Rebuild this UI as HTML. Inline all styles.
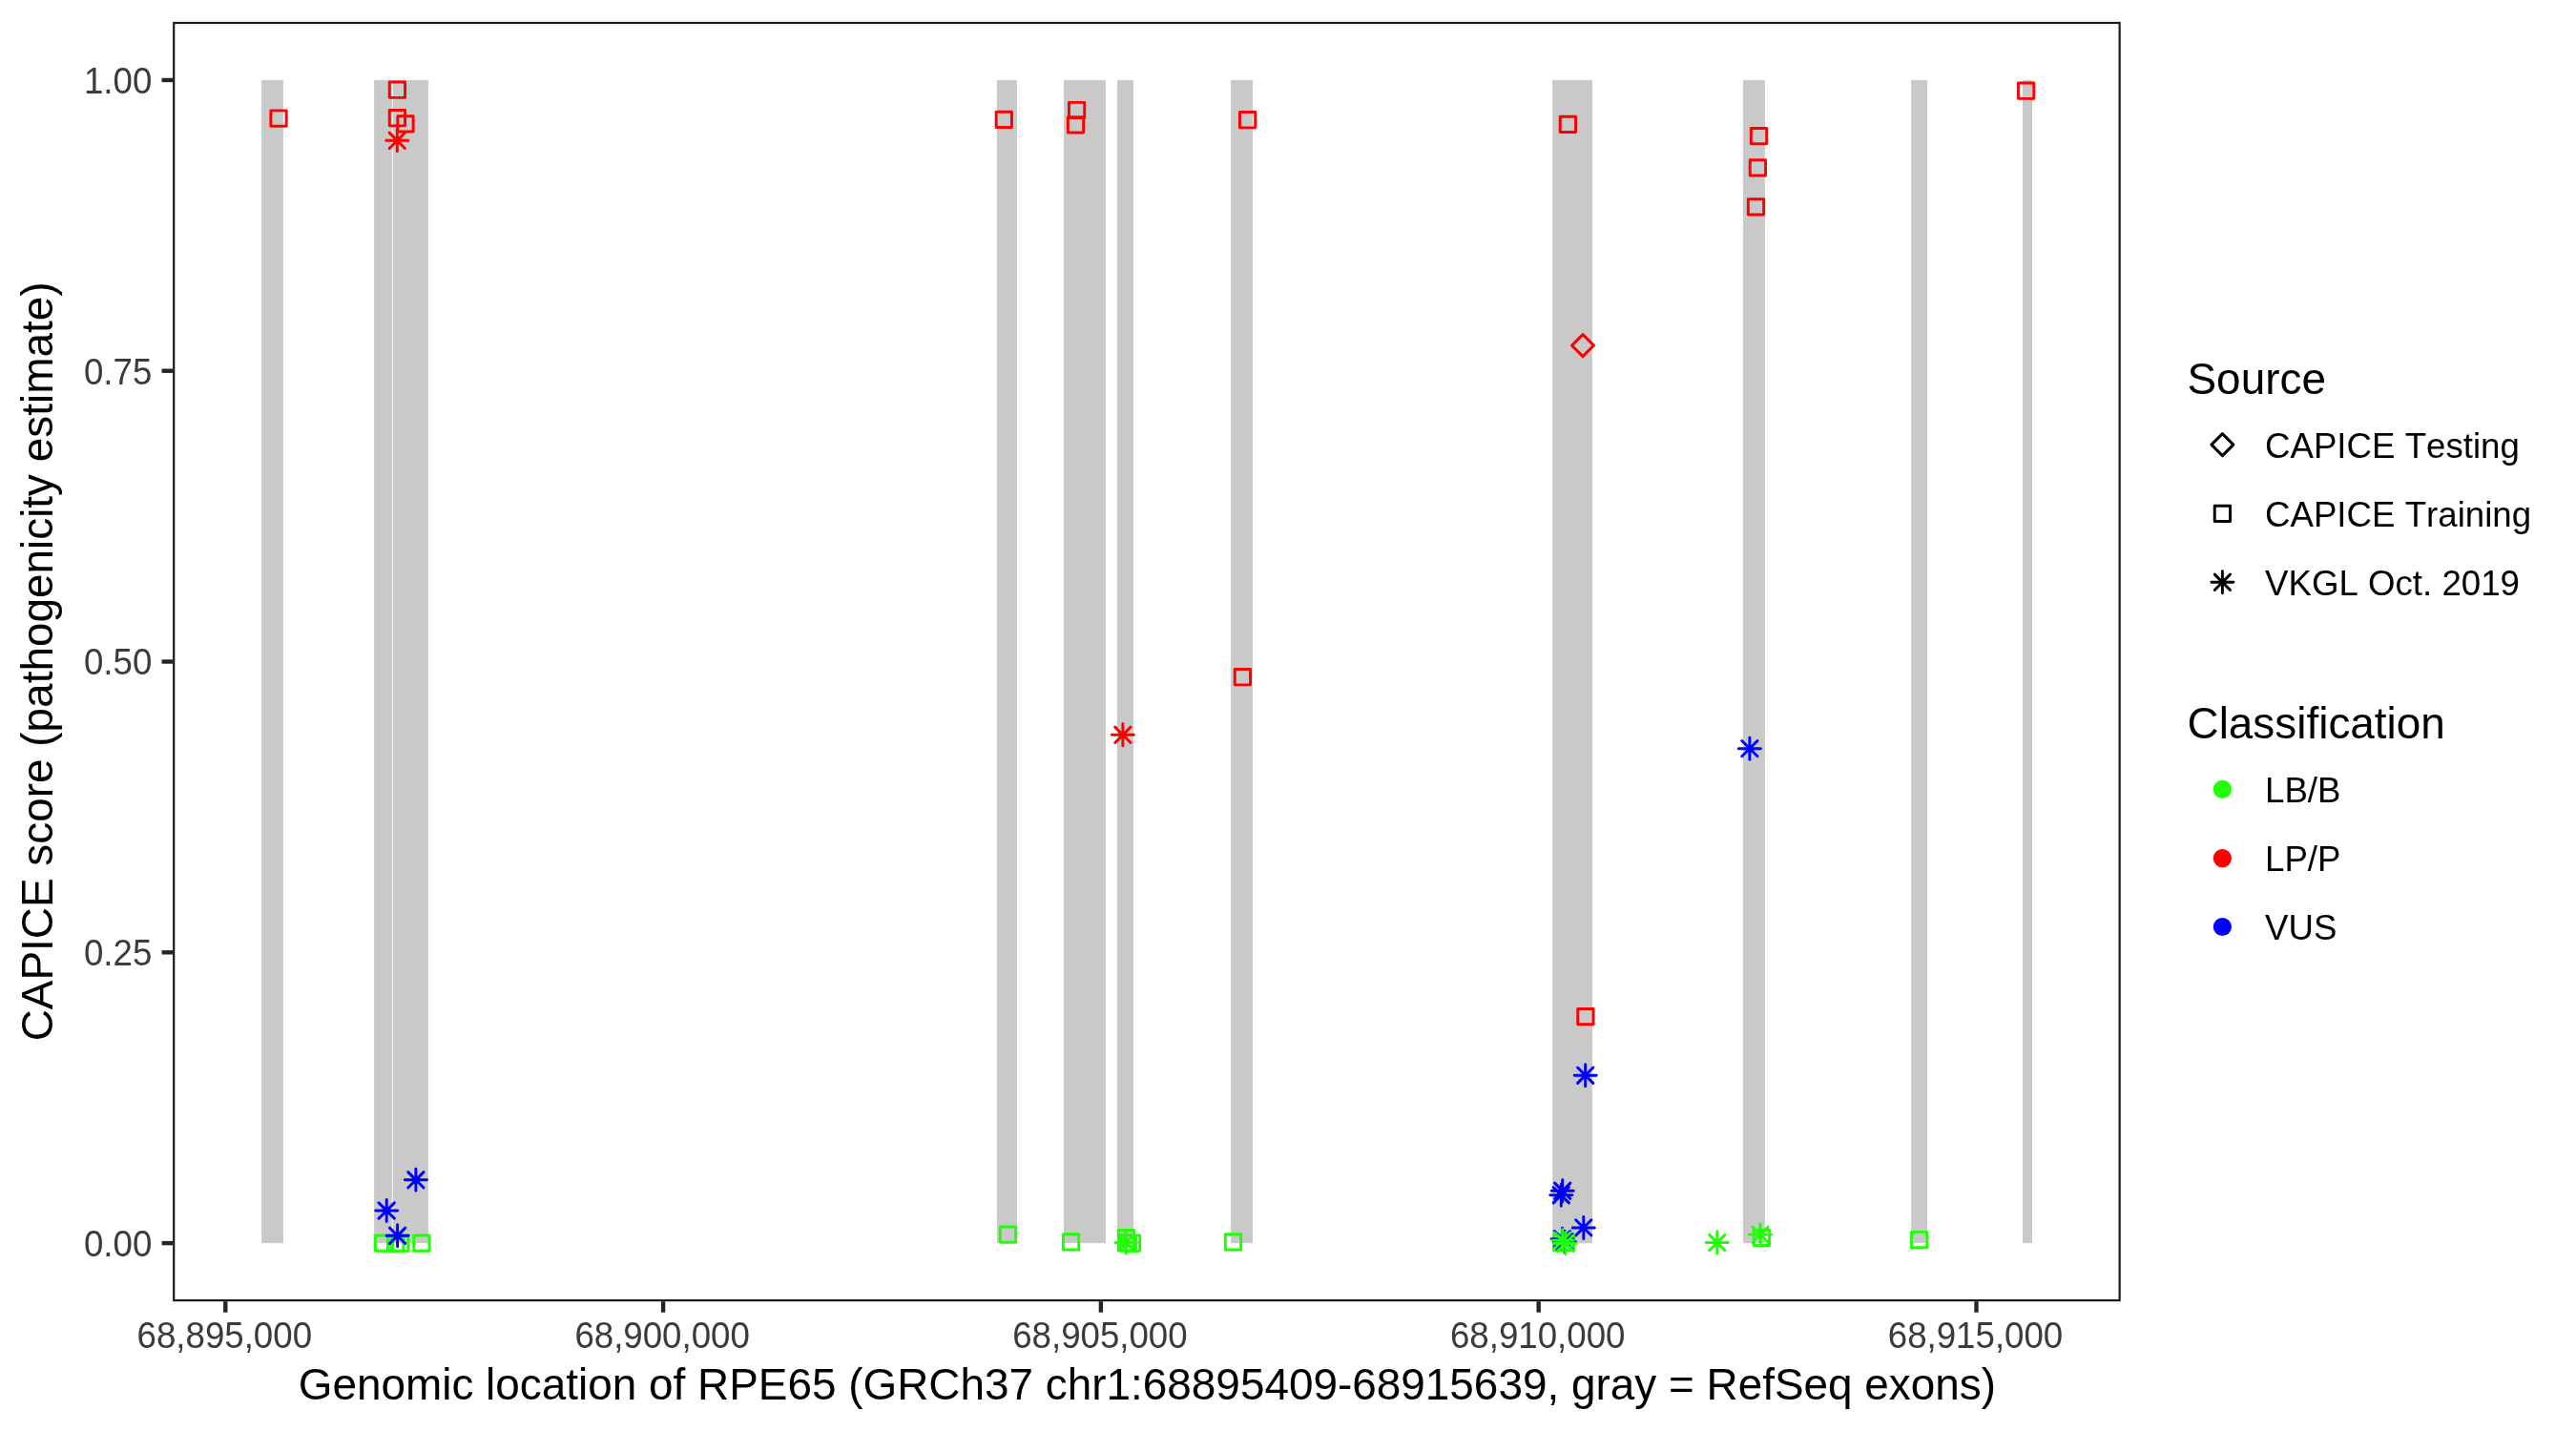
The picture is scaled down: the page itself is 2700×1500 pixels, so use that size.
<!DOCTYPE html>
<html lang="en"><head><meta charset="utf-8"><title>CAPICE score – RPE65</title>
<style>html,body{margin:0;padding:0;background:#fff}svg{display:block;will-change:transform}text{font-family:"Liberation Sans",Arial,Helvetica,sans-serif;font-kerning:none;font-variant-ligatures:none}.at{font-size:36.67px;fill:#3b3b3b}.ti{font-size:45.9px;fill:#000}.lt{font-size:36.67px;fill:#000}.pt *{fill:none;stroke-width:2.95;stroke-linecap:round;stroke-linejoin:round}  .tk{stroke:#242424;stroke-width:4.4;fill:none}</style></head><body>
<svg width="2700" height="1500" viewBox="0 0 2700 1500">
<rect width="2700" height="1500" fill="#fff"/>
<g fill="#c9c9c9">
<rect x="274.1" y="83.95" width="22.80" height="1219.15"/>
<rect x="392.1" y="83.95" width="18.75" height="1219.15"/>
<rect x="411.75" y="83.95" width="37.15" height="1219.15"/>
<rect x="1044.9" y="83.95" width="21.00" height="1219.15"/>
<rect x="1115.0" y="83.95" width="43.90" height="1219.15"/>
<rect x="1171.0" y="83.95" width="16.95" height="1219.15"/>
<rect x="1290.1" y="83.95" width="22.90" height="1219.15"/>
<rect x="1627.1" y="83.95" width="41.85" height="1219.15"/>
<rect x="1827.0" y="83.95" width="22.90" height="1219.15"/>
<rect x="2003.1" y="83.95" width="16.90" height="1219.15"/>
<rect x="2120.0" y="83.95" width="10.00" height="1219.15"/>
</g>
<g class="pt">
<rect x="393.45" y="1294.95" width="16.30" height="16.30" stroke="#21ff06"/>
<rect x="406.45" y="1294.95" width="16.30" height="16.30" stroke="#21ff06"/>
<rect x="411.55" y="1294.95" width="16.30" height="16.30" stroke="#21ff06"/>
<rect x="433.75" y="1294.95" width="16.30" height="16.30" stroke="#21ff06"/>
<path d="M424.40 1236.80H447.40M435.90 1225.30V1248.30M427.76 1228.66L444.04 1244.94M427.76 1244.94L444.04 1228.66" stroke="#0000ff"/>
<path d="M393.70 1269.00H416.70M405.20 1257.50V1280.50M397.06 1260.86L413.34 1277.14M397.06 1277.14L413.34 1260.86" stroke="#0000ff"/>
<path d="M405.10 1295.30H428.10M416.60 1283.80V1306.80M408.46 1287.16L424.74 1303.44M408.46 1303.44L424.74 1287.16" stroke="#0000ff"/>
<rect x="283.85" y="115.85" width="16.30" height="16.30" stroke="#ff0000"/>
<rect x="408.25" y="86.05" width="16.30" height="16.30" stroke="#ff0000"/>
<rect x="408.25" y="115.55" width="16.30" height="16.30" stroke="#ff0000"/>
<path d="M404.80 147.30H427.80M416.30 135.80V158.80M408.16 139.16L424.44 155.44M408.16 155.44L424.44 139.16" stroke="#ff0000"/>
<rect x="416.85" y="121.75" width="16.30" height="16.30" stroke="#ff0000"/>
<rect x="1044.15" y="117.15" width="16.30" height="16.30" stroke="#ff0000"/>
<rect x="1120.45" y="107.35" width="16.30" height="16.30" stroke="#ff0000"/>
<rect x="1119.35" y="122.75" width="16.30" height="16.30" stroke="#ff0000"/>
<rect x="1299.45" y="117.55" width="16.30" height="16.30" stroke="#ff0000"/>
<rect x="1635.25" y="122.15" width="16.30" height="16.30" stroke="#ff0000"/>
<rect x="1835.35" y="134.45" width="16.30" height="16.30" stroke="#ff0000"/>
<rect x="1834.25" y="167.75" width="16.30" height="16.30" stroke="#ff0000"/>
<rect x="1832.35" y="208.75" width="16.30" height="16.30" stroke="#ff0000"/>
<rect x="2115.45" y="87.05" width="16.30" height="16.30" stroke="#ff0000"/>
<path d="M1165.40 770.30H1188.40M1176.90 758.80V781.80M1168.76 762.16L1185.04 778.44M1168.76 778.44L1185.04 762.16" stroke="#ff0000"/>
<rect x="1294.25" y="701.55" width="16.30" height="16.30" stroke="#ff0000"/>
<path d="M1647.50 362.10L1659.00 350.60L1670.50 362.10L1659.00 373.60Z" stroke="#ff0000"/>
<path d="M1822.40 784.65H1845.40M1833.90 773.15V796.15M1825.76 776.51L1842.04 792.79M1825.76 792.79L1842.04 776.51" stroke="#0000ff"/>
<rect x="1653.75" y="1057.45" width="16.30" height="16.30" stroke="#ff0000"/>
<path d="M1650.20 1127.20H1673.20M1661.70 1115.70V1138.70M1653.56 1119.06L1669.84 1135.34M1653.56 1135.34L1669.84 1119.06" stroke="#0000ff"/>
<rect x="1048.35" y="1285.95" width="16.30" height="16.30" stroke="#21ff06"/>
<rect x="1114.35" y="1293.65" width="16.30" height="16.30" stroke="#21ff06"/>
<rect x="1284.35" y="1293.65" width="16.30" height="16.30" stroke="#21ff06"/>
<rect x="1172.35" y="1289.55" width="16.30" height="16.30" stroke="#21ff06"/>
<rect x="1172.45" y="1294.55" width="16.30" height="16.30" stroke="#21ff06"/>
<rect x="1174.15" y="1294.85" width="16.30" height="16.30" stroke="#21ff06"/>
<rect x="1178.35" y="1294.85" width="16.30" height="16.30" stroke="#21ff06"/>
<path d="M1168.80 1302.50H1191.80M1180.30 1291.00V1314.00M1172.16 1294.36L1188.44 1310.64M1172.16 1310.64L1188.44 1294.36" stroke="#21ff06"/>
<path d="M1626.20 1248.30H1649.20M1637.70 1236.80V1259.80M1629.56 1240.16L1645.84 1256.44M1629.56 1256.44L1645.84 1240.16" stroke="#0000ff"/>
<path d="M1624.80 1252.70H1647.80M1636.30 1241.20V1264.20M1628.16 1244.56L1644.44 1260.84M1628.16 1260.84L1644.44 1244.56" stroke="#0000ff"/>
<path d="M1648.30 1286.90H1671.30M1659.80 1275.40V1298.40M1651.66 1278.76L1667.94 1295.04M1651.66 1295.04L1667.94 1278.76" stroke="#0000ff"/>
<rect x="1628.55" y="1294.65" width="16.30" height="16.30" stroke="#21ff06"/>
<rect x="1633.15" y="1294.25" width="16.30" height="16.30" stroke="#21ff06"/>
<path d="M1626.00 1298.70H1649.00M1637.50 1287.20V1310.20M1629.36 1290.56L1645.64 1306.84M1629.36 1306.84L1645.64 1290.56" stroke="#0000ff"/>
<path d="M1628.50 1301.60H1651.50M1640.00 1290.10V1313.10M1631.86 1293.46L1648.14 1309.74M1631.86 1309.74L1648.14 1293.46" stroke="#0000ff"/>
<path d="M1626.20 1300.10H1649.20M1637.70 1288.60V1311.60M1629.56 1291.96L1645.84 1308.24M1629.56 1308.24L1645.84 1291.96" stroke="#21ff06"/>
<path d="M1629.30 1303.25H1652.30M1640.80 1291.75V1314.75M1632.66 1295.11L1648.94 1311.39M1632.66 1311.39L1648.94 1295.11" stroke="#21ff06"/>
<path d="M1788.30 1302.50H1811.30M1799.80 1291.00V1314.00M1791.66 1294.36L1807.94 1310.64M1791.66 1310.64L1807.94 1294.36" stroke="#21ff06"/>
<path d="M1833.50 1294.10H1856.50M1845.00 1282.60V1305.60M1836.86 1285.96L1853.14 1302.24M1836.86 1302.24L1853.14 1285.96" stroke="#21ff06"/>
<rect x="1838.25" y="1289.15" width="16.30" height="16.30" stroke="#21ff06"/>
<rect x="2003.55" y="1291.35" width="16.30" height="16.30" stroke="#21ff06"/>
</g>
<rect x="182.2" y="24.0" width="2039.40" height="1339.10" fill="none" stroke="#1a1a1a" stroke-width="2.2"/>
<g class="tk">
<path d="M169.6 83.95H181.1"/>
<path d="M169.6 388.74H181.1"/>
<path d="M169.6 693.52H181.1"/>
<path d="M169.6 998.31H181.1"/>
<path d="M169.6 1303.10H181.1"/>
<path d="M236.3 1364.2V1375.7"/>
<path d="M695.1 1364.2V1375.7"/>
<path d="M1153.9 1364.2V1375.7"/>
<path d="M1612.7 1364.2V1375.7"/>
<path d="M2071.5 1364.2V1375.7"/>
</g>
<g class="at" text-anchor="end">
<text transform="translate(159.3 97.85) scale(1 1.05)">1.00</text>
<text transform="translate(159.3 402.64) scale(1 1.05)">0.75</text>
<text transform="translate(159.3 707.42) scale(1 1.05)">0.50</text>
<text transform="translate(159.3 1012.21) scale(1 1.05)">0.25</text>
<text transform="translate(159.3 1317.00) scale(1 1.05)">0.00</text>
</g>
<g class="at" text-anchor="middle">
<text transform="translate(235.3 1412.5) scale(1 1.05)">68,895,000</text>
<text transform="translate(694.1 1412.5) scale(1 1.05)">68,900,000</text>
<text transform="translate(1152.9 1412.5) scale(1 1.05)">68,905,000</text>
<text transform="translate(1611.7 1412.5) scale(1 1.05)">68,910,000</text>
<text transform="translate(2070.5 1412.5) scale(1 1.05)">68,915,000</text>
</g>
<text class="ti" text-anchor="middle" x="1202.4" y="1467.1">Genomic location of RPE65 (GRCh37 chr1:68895409-68915639, gray = RefSeq exons)</text>
<text class="ti" text-anchor="middle" transform="translate(54.8 693.4) rotate(-90)">CAPICE score (pathogenicity estimate)</text>
<text class="ti" x="2292.5" y="412.8">Source</text>
<g class="pt">
<path d="M2317.90 466.10L2329.40 454.60L2340.90 466.10L2329.40 477.60Z" stroke="#000"/>
<rect x="2321.25" y="530.25" width="16.30" height="16.30" stroke="#000"/>
<path d="M2317.90 610.30H2340.90M2329.40 598.80V621.80M2321.26 602.16L2337.54 618.44M2321.26 618.44L2337.54 602.16" stroke="#000"/>
</g>
<g class="lt"><text x="2374.0" y="480.0">CAPICE Testing</text><text x="2374.0" y="551.9">CAPICE Training</text><text x="2374.0" y="624.0">VKGL Oct. 2019</text></g>
<text class="ti" x="2292.5" y="773.9">Classification</text>
<circle cx="2329.4" cy="827.4" r="9.6" fill="#21ff06"/><circle cx="2329.4" cy="899.6" r="9.6" fill="#ff0000"/><circle cx="2329.4" cy="971.5" r="9.6" fill="#0000ff"/>
<g class="lt"><text x="2374.0" y="840.9">LB/B</text><text x="2374.0" y="913.0">LP/P</text><text x="2374.0" y="984.9">VUS</text></g>
</svg></body></html>
